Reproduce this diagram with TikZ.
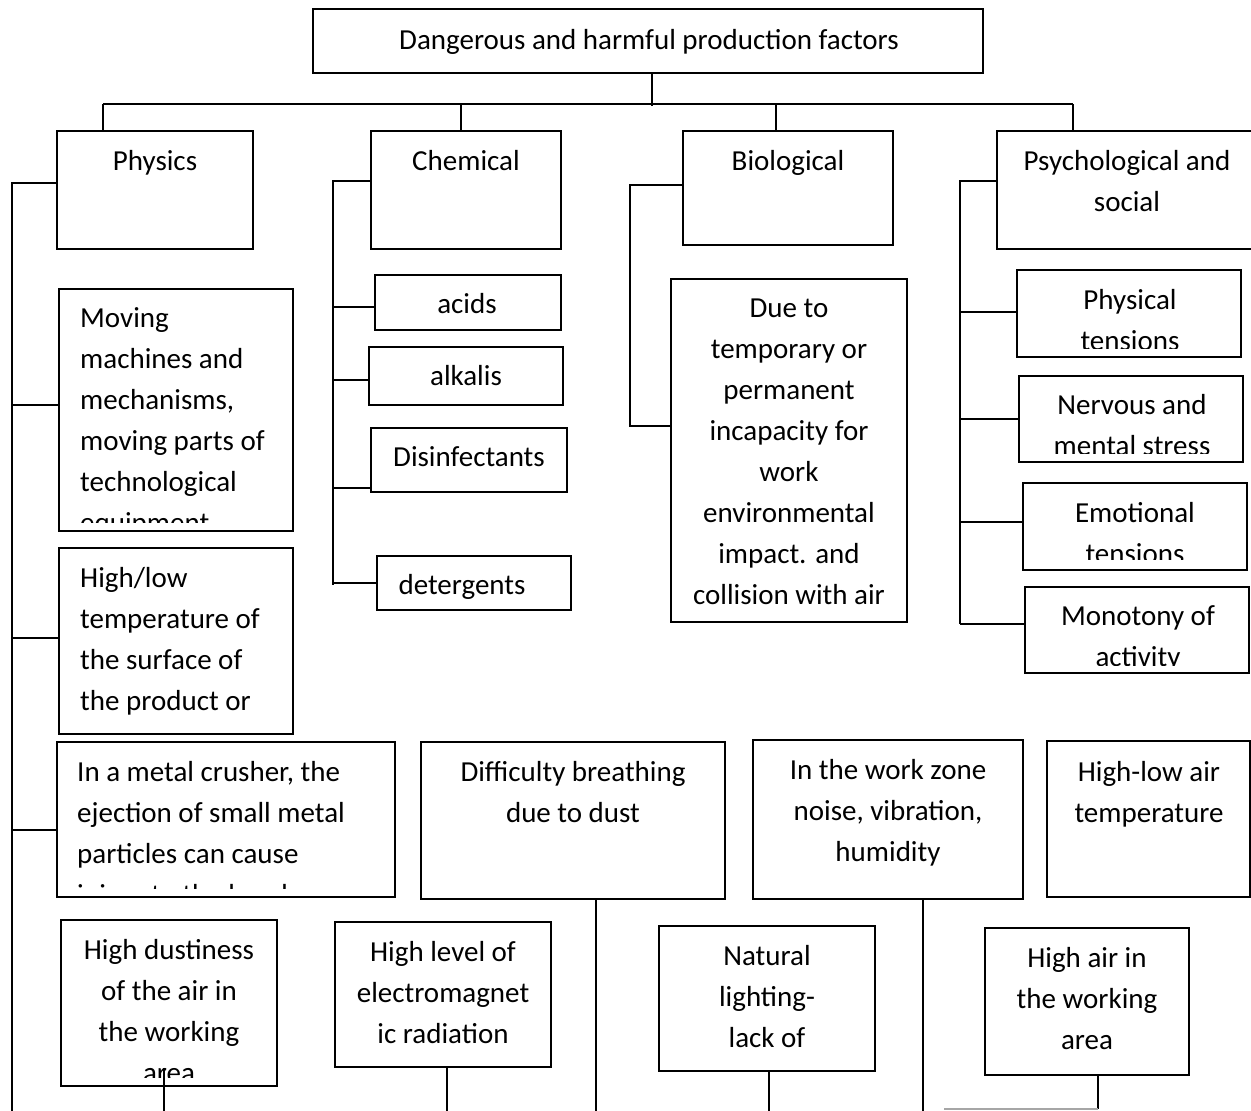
\documentclass[tikz,border=0pt]{standalone}
\usepackage{fontspec}
\setmainfont{Carlito}
% box from corner (x1,y1) to corner (x2,y2), y measured downwards
\newcommand\bx[5]{\node[box,minimum width={#4-#2},minimum height={#5-#3}] (#1) at ({(#2+#4)/2},{(#3+#5)/2}) {};}
\begin{document}
\begin{tikzpicture}[x=1pt,y=-1pt,
  box/.style={draw,line width=1.2pt,inner sep=0pt,outer sep=0pt},
  txt/.style={inner sep=0pt,font=\fontsize{29}{41}\selectfont,align=center,anchor=north},
  ltxt/.style={txt,align=left,anchor=north west},
  conn/.style={line width=1.8pt},
  bus/.style={line width=2.6pt},
  fade/.style={line width=2pt,draw=black!35}]
\useasboundingbox[fill=white] (0,0) rectangle (1251,1111);

% ---------- boxes ----------
\bx{top}{313}{9}{983}{73}
\bx{phys}{57}{131}{253}{249}
\bx{chem}{371}{131}{561}{249}
\bx{bio}{683}{131}{893}{245}
\bx{psy}{997}{131}{1262}{249}
\bx{moving}{59}{289}{293}{531}
\bx{temp}{59}{548}{293}{734}
\bx{crusher}{57}{742}{395}{897}
\bx{acids}{375}{275}{561}{330}
\bx{alkalis}{369}{347}{563}{405}
\bx{disinf}{371}{428}{567}{492}
\bx{deterg}{377}{556}{571}{610}
\bx{due}{671}{279}{907}{622}
\bx{phyten}{1017}{270}{1241}{357}
\bx{nerv}{1019}{376}{1243}{462}
\bx{emot}{1023}{483}{1247}{570}
\bx{monot}{1025}{587}{1249}{673}
\bx{breath}{421}{742}{725}{899}
\bx{zone}{753}{740}{1023}{899}
\bx{airtemp}{1047}{741}{1250}{897}
\bx{dust}{61}{920}{277}{1086}
\bx{emag}{335}{922}{551}{1067}
\bx{light}{659}{926}{875}{1071}
\bx{airwork}{985}{928}{1189}{1075}

% ---------- texts (y = first baseline - strut height) ----------
\node[txt] (ttop) at (649,49-28.7) {\strut Dangerous and harmful production factors};
\node[txt] (tphys) at (155,170-28.7) {\strut Physics};
\node[txt] (tchem) at (466,170-28.7) {\strut Chemical};
\node[txt] (tbio) at (788,170-28.7) {\strut Biological};
\node[txt] (tpsy) at (1127,170-28.7) {\strut Psychological and\\social};

\begin{scope}
  \clip (59,289) rectangle (293,522);
  \node[ltxt] (tmoving) at (80,327-28.7) {\strut Moving\\machines and\\mechanisms,\\moving parts of\\technological\\equipment};
\end{scope}
\node[ltxt] (ttemp) at (80,587-28.7) {\strut High/low\\temperature of\\the surface of\\the product or};
\begin{scope}
  \clip (57,742) rectangle (395,888);
  \node[ltxt] (tcrusher) at (77,781-28.7) {\strut In a metal crusher, the\\ejection of small metal\\particles can cause\\injury to the hand};
\end{scope}

\node[txt] (tacids) at (467,313-28.7) {\strut acids};
\node[txt] (talkalis) at (466,385-28.7) {\strut alkalis};
\node[txt] (tdisinf) at (469,466-28.7) {\strut Disinfectants};
\node[txt] (tdeterg) at (462,594-28.7) {\strut detergents};

\node[txt] (tdue) at (789,317-28.7) {\strut Due to\\temporary or\\permanent\\incapacity for\\work\\environmental\\impact. and\\collision with air};

\begin{scope}
  \clip (1017,270) rectangle (1241,348);
  \node[txt] (tphyten) at (1130,309-28.7) {\strut Physical\\tensions};
\end{scope}
\begin{scope}
  \clip (1019,376) rectangle (1243,453);
  \node[txt] (tnerv) at (1132,414-28.7) {\strut Nervous and\\mental stress};
\end{scope}
\begin{scope}
  \clip (1023,483) rectangle (1247,559);
  \node[txt] (temot) at (1135,522-28.7) {\strut Emotional\\tensions};
\end{scope}
\begin{scope}
  \clip (1025,587) rectangle (1249,665);
  \node[txt] (tmonot) at (1138,625-28.7) {\strut Monotony of\\activity};
\end{scope}

\node[txt] (tbreath) at (573,781-28.7) {\strut Difficulty breathing\\due to dust};
\node[txt] (tzone) at (888,779-28.7) {\strut In the work zone\\noise, vibration,\\humidity};
\node[txt] (tairtemp) at (1149,781-28.7) {\strut High-low air\\temperature};
\begin{scope}
  \clip (61,920) rectangle (277,1077);
  \node[txt] (tdust) at (169,959-28.7) {\strut High dustiness\\of the air in\\the working\\area};
\end{scope}
\node[txt] (temag) at (443,961-28.7) {\strut High level of\\electromagnet\\ic radiation};
\node[txt] (tlight) at (767,965-28.7) {\strut Natural\\lighting-\\lack of};
\node[txt] (tairwork) at (1087,967-28.7) {\strut High air in\\the working\\area};

% ---------- top level bus ----------
\coordinate (hub) at (652,106);
\coordinate (bL) at (103,104);
\coordinate (bR) at (1073,104);
\coordinate (dC) at (461,104);
\coordinate (dB) at (776,104);
\draw[conn] (top.south -| hub) -- (hub);
\draw[bus] (bL) -- (bR);
\draw[conn] (bL) -- (bL |- phys.north);
\draw[conn] (dC) -- (dC |- chem.north);
\draw[conn] (dB) -- (dB |- bio.north);
\draw[conn] (bR) -- (bR |- psy.north);

% ---------- physical factors ----------
\coordinate (pA) at (12,183);
\coordinate (pZ) at (12,1111);
\draw[bus] (phys.west |- pA) -- (pA) -- (pZ);
\draw[conn] (moving.west |- 0,405) -- (pA |- 0,405);
\draw[conn] (temp.west |- 0,638) -- (pA |- 0,638);
\draw[conn] (crusher.west |- 0,830) -- (pA |- 0,830);

% ---------- chemical factors ----------
\coordinate (cA) at (333,181);
\coordinate (cZ) at (333,585);
\draw[conn] (chem.west |- cA) -- (cA) -- (cZ);
\draw[conn] (acids.west |- 0,307) -- (cA |- 0,307);
\draw[conn] (alkalis.west |- 0,380) -- (cA |- 0,380);
\draw[conn] (disinf.west |- 0,488) -- (cA |- 0,488);
\draw[conn] (deterg.west |- 0,583) -- (cA |- 0,583);

% ---------- biological factors ----------
\coordinate (gA) at (630,185);
\coordinate (gZ) at (630,426);
\draw[conn] (bio.west |- gA) -- (gA) -- (gZ) -- (due.west |- gZ);

% ---------- psychological factors ----------
\coordinate (sA) at (960,181);
\coordinate (sZ) at (960,624);
\draw[conn] (psy.west |- sA) -- (sA) -- (sZ);
\draw[conn] (phyten.west |- 0,312) -- (sA |- 0,312);
\draw[conn] (nerv.west |- 0,419) -- (sA |- 0,419);
\draw[conn] (emot.west |- 0,522) -- (sA |- 0,522);
\draw[conn] (monot.west |- sZ) -- (sZ);

% ---------- lower leads ----------
\coordinate (e1) at (164,1111);
\coordinate (e2) at (447,1111);
\coordinate (e3) at (596,1111);
\coordinate (e4) at (769,1111);
\coordinate (e5) at (923,1111);
\coordinate (e6) at (1098,1109);
\coordinate (e7) at (944,1109);
\draw[conn] ([yshift=18pt]dust.south -| e1) -- (e1);
\draw[conn] (emag.south -| e2) -- (e2);
\draw[conn] (breath.south -| e3) -- (e3);
\draw[conn] (light.south -| e4) -- (e4);
\draw[conn] (zone.south -| e5) -- (e5);
\draw[conn] (airwork.south -| e6) -- (e6);
\draw[fade] (e6) -- (e7);
\end{tikzpicture}
\end{document}
